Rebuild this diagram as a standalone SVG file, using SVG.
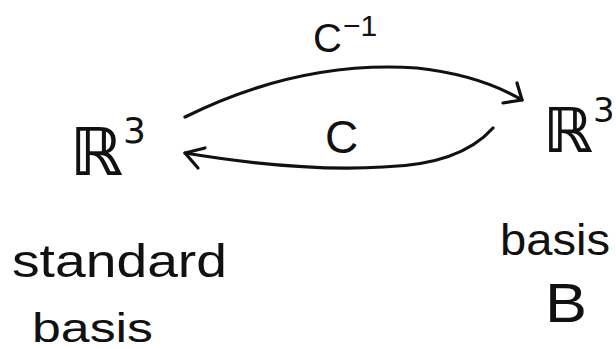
<svg xmlns="http://www.w3.org/2000/svg" width="616" height="349" viewBox="0 0 616 349">
<style>
  text { font-family: "DejaVu Sans", "Liberation Sans", sans-serif; fill: #111; }
  .cap { font-family: "Liberation Sans", "DejaVu Sans", sans-serif; }
  .edge { fill: none; stroke: #111; stroke-width: 3.2; stroke-linecap: round; stroke-linejoin: round; }
</style>
<rect width="616" height="349" fill="#fff"/>
<g id="node-standard">
  <text x="70" y="175" font-size="66" font-weight="bold">ℝ</text>
  <text x="123" y="143" font-size="36">3</text>
  <text class="cap" x="12" y="277" font-size="46" textLength="215" lengthAdjust="spacingAndGlyphs">standard</text>
  <text class="cap" x="32" y="342" font-size="40" textLength="121" lengthAdjust="spacingAndGlyphs">basis</text>
</g>
<g id="node-B">
  <text x="543" y="152" font-size="62" font-weight="bold">ℝ</text>
  <text x="593" y="122" font-size="34">3</text>
  <text class="cap" x="500" y="255" font-size="44" textLength="110" lengthAdjust="spacingAndGlyphs">basis</text>
  <text class="cap" x="545" y="322" font-size="56" textLength="42" lengthAdjust="spacingAndGlyphs">B</text>
</g>
<g id="connectors">
  <path class="edge" d="M185,117 Q300,60 417,68 Q480,75 522,100"/>
  <path class="edge" d="M517,83 L522,100 L503,103"/>
  <text class="cap" x="313" y="52" font-size="40">C</text>
  <text class="cap" x="343" y="36" font-size="30">−1</text>
  <path class="edge" d="M493,128 Q460,165 383,167 Q300,172 185,153"/>
  <path class="edge" d="M205,148 L185,153 L198,168"/>
  <text class="cap" x="325" y="153" font-size="46">C</text>
</g>
</svg>
